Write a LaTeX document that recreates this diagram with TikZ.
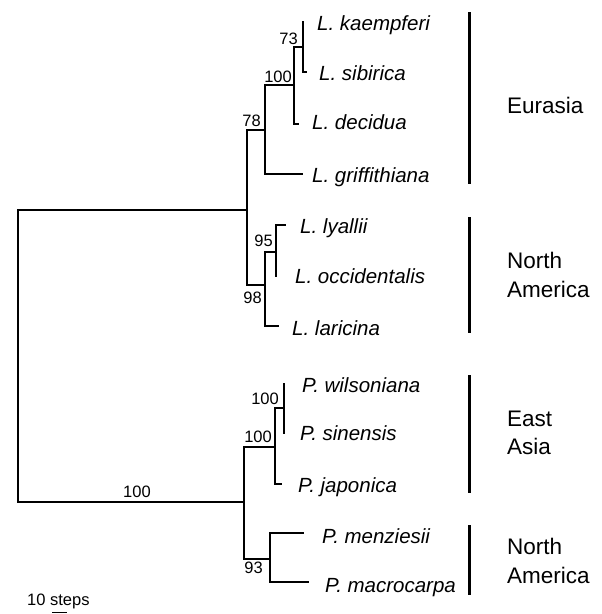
\documentclass[tikz,border=0pt]{standalone}
\usepackage{fontspec}
\setmainfont{Liberation Sans}
\usepackage{tikz}

\tikzset{
  branch/.style={line width=2.8pt, line cap=rect},
  groupbar/.style={line width=3pt},
  tiplabel/.style={anchor=base west, inner sep=0pt, font=\fontsize{20.5}{24}\selectfont\itshape},
  support/.style={inner sep=0pt, font=\fontsize{16.5}{19}\selectfont},
  region/.style={anchor=west, inner sep=0pt, align=left, font=\fontsize{22.5}{28.5}\selectfont}
}

\begin{document}
\begin{tikzpicture}[x=1pt,y=1pt,yscale=-1,xscale=1]
\useasboundingbox (0,0) rectangle (602,614);

% Tree nodes
\coordinate (root) at (18,356);
\coordinate (larix) at (247,210);
\coordinate (n78) at (265,130);
\coordinate (n100a) at (294,85);
\coordinate (n73) at (303,47);
\coordinate (kaem) at (303,22);
\coordinate (sib) at (306,72);
\coordinate (dec) at (298,124);
\coordinate (grif) at (302,174);
\coordinate (n98) at (265,285);
\coordinate (n95) at (276,252);
\coordinate (lya) at (285,225);
\coordinate (occ) at (276,276);
\coordinate (lar) at (278,326);
\coordinate (picea) at (244,502);
\coordinate (n100b) at (275,447);
\coordinate (n100c) at (284,408);
\coordinate (wil) at (284,384);
\coordinate (sin) at (284,433);
\coordinate (jap) at (281,484);
\coordinate (n93) at (270,559);
\coordinate (men) at (303,533);
\coordinate (mac) at (308,582);

% Connection
\draw[branch] (root) |- (larix);
\draw[branch] (root) |- (picea);
\draw[branch] (larix) |- (n78);
\draw[branch] (larix) |- (n98);
\draw[branch] (n78) |- (n100a);
\draw[branch] (n78) |- (grif);
\draw[branch] (n100a) |- (n73);
\draw[branch] (n100a) |- (dec);
\draw[branch] (n73) |- (kaem);
\draw[branch] (n73) |- (sib);
\draw[branch] (n98) |- (n95);
\draw[branch] (n98) |- (lar);
\draw[branch] (n95) |- (lya);
\draw[branch] (n95) |- (occ);
\draw[branch] (picea) |- (n100b);
\draw[branch] (picea) |- (n93);
\draw[branch] (n100b) |- (n100c);
\draw[branch] (n100b) |- (jap);
\draw[branch] (n100c) |- (wil);
\draw[branch] (n100c) |- (sin);
\draw[branch] (n93) |- (men);
\draw[branch] (n93) |- (mac);

% Text Node
\node[support, anchor=south east] (s78) at (261,127) {78};
\node[support, anchor=south east] (s100a) at (292,83) {100};
\node[support, anchor=south east] (s73) at (298,45) {73};
\node[support, anchor=south east] (s95) at (273,247) {95};
\node[support, anchor=north east] (s98) at (262,292) {98};
\node[support, anchor=south] (s100r) at (137,498) {100};
\node[support, anchor=south east] (s100b) at (272,443) {100};
\node[support, anchor=south east] (s100c) at (279,405) {100};
\node[support, anchor=north east] (s93) at (263,562) {93};

% Text Node
\node[tiplabel] (tkaem) at (317,30) {L. kaempferi};
\node[tiplabel] (tsib) at (319,80) {L. sibirica};
\node[tiplabel] (tdec) at (312,129) {L. decidua};
\node[tiplabel] (tgrif) at (312,182) {L. griffithiana};
\node[tiplabel] (tlya) at (300,233) {L. lyallii};
\node[tiplabel] (tocc) at (295,283) {L. occidentalis};
\node[tiplabel] (tlar) at (292,335) {L. laricina};
\node[tiplabel] (twil) at (302,392) {P. wilsoniana};
\node[tiplabel] (tsin) at (300,440) {P. sinensis};
\node[tiplabel] (tjap) at (298,492) {P. japonica};
\node[tiplabel] (tmen) at (322,543) {P. menziesii};
\node[tiplabel] (tmac) at (325,592) {P. macrocarpa};

%Shape: group bars
\draw[groupbar] (469,12) -- (469,184);
\draw[groupbar] (469,217) -- (469,333);
\draw[groupbar] (469,375) -- (469,493);
\draw[groupbar] (469,525) -- (469,595);

% Text Node
\node[region] (eurasia) at (507,105) {Eurasia};
\node[region] (namlarix) at (507,275) {North\\America};
\node[region] (easia) at (507,433) {East\\Asia};
\node[region] (nampicea) at (507,561) {North\\America};

% Scale
\node[support, anchor=base west] (scale) at (27,605) {10 steps};
\draw[line width=1.5pt] (52,612.5) -- (67,612.5);

\end{tikzpicture}
\end{document}
